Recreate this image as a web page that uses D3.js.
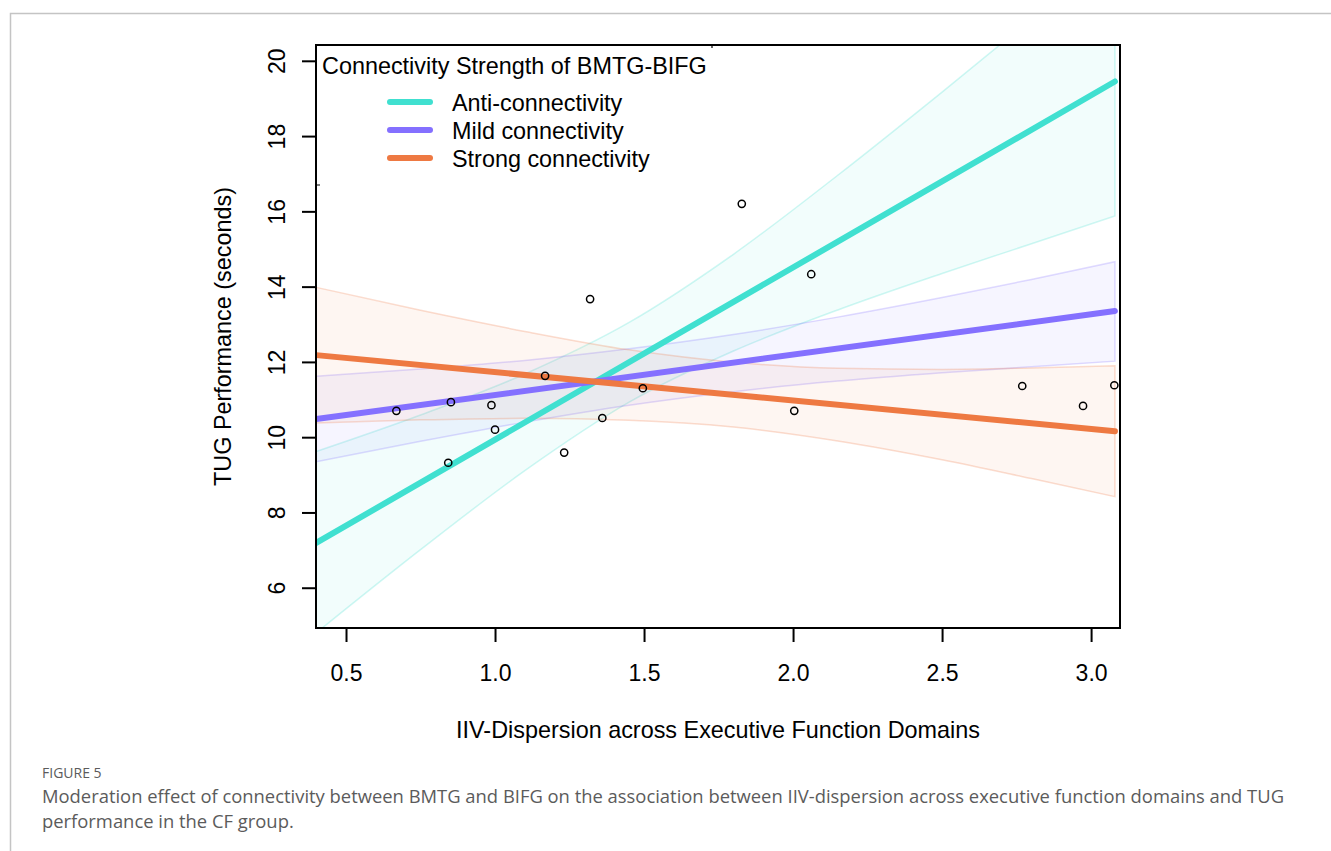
<!DOCTYPE html>
<html>
<head>
<meta charset="utf-8">
<script src="https://cdn.jsdelivr.net/npm/d3@7"></script>
<style>
  html, body { margin: 0; padding: 0; background: #ffffff; }
  svg { display: block; }
  .chart-text { font-family: "Liberation Sans", Arial, Helvetica, sans-serif; fill: #000; }
  .caption { font-family: "Open Sans", "Noto Sans", sans-serif; fill: #5b5b5b; }
</style>
</head>
<body>
<svg id="fig" width="1331" height="851"></svg>
<script>
// ---- Data -------------------------------------------------------------
const seriesNames = ["Anti-connectivity", "Mild connectivity", "Strong connectivity"];
const seriesColors = ["#40E0D0", "#8470FF", "#EE7942"];
const legendTitle = "Connectivity Strength of BMTG-BIFG";

// Observed cases: IIV-dispersion vs TUG seconds
const pointX = [0.669, 0.852, 0.843, 0.988, 1.000, 1.168, 1.232, 1.319, 1.360, 1.496, 1.828, 2.004, 2.061, 2.769, 2.973, 3.078];
const pointY = [10.70, 10.93, 9.32, 10.85, 10.20, 11.63, 9.59, 13.67, 10.51, 11.30, 16.20, 10.70, 14.33, 11.36, 10.83, 11.38];

// Simple-slope fitted lines at the two ends of the dispersion range
const fitX = [0.40, 3.08];
const fitAnti   = [7.19, 19.45];
const fitMild   = [10.48, 13.35];
const fitStrong = [12.18, 10.16];

// Confidence bands (lower / upper) sampled along the dispersion axis
const bandX = [0.40, 0.75, 1.10, 1.45, 1.80, 2.15, 2.50, 2.80, 3.08];
const antiLower   = [4.80, 7.01, 9.11, 10.93, 12.29, 13.38, 14.35, 15.14, 15.88];
const antiUpper   = [9.62, 10.59, 11.68, 13.05, 14.86, 16.96, 19.17, 21.11, 22.96];
const mildLower   = [9.35, 9.89, 10.40, 10.85, 11.21, 11.49, 11.71, 11.87, 12.02];
const mildUpper   = [11.62, 11.81, 12.04, 12.35, 12.73, 13.19, 13.71, 14.19, 14.66];
const strongLower = [10.38, 10.46, 10.50, 10.45, 10.27, 9.90, 9.40, 8.90, 8.42];
const strongUpper = [13.98, 13.37, 12.81, 12.32, 11.99, 11.83, 11.80, 11.84, 11.90];

const xTicks = [0.5, 1.0, 1.5, 2.0, 2.5, 3.0];
const yTicks = [6, 8, 10, 12, 14, 16, 18, 20];

const xTitle = "IIV-Dispersion across Executive Function Domains";
const yTitle = "TUG Performance (seconds)";
const figLabel = "FIGURE 5";
const captionLines = [
  "Moderation effect of connectivity between BMTG and BIFG on the association between IIV-dispersion across executive function domains and TUG",
  "performance in the CF group."
];

// ---- Layout -----------------------------------------------------------
const svg = d3.select("#fig");
const plot = { left: 316, right: 1120, top: 45, bottom: 628 };

const x = d3.scaleLinear().domain([0.3993, 3.097]).range([plot.left, plot.right]);
const y = d3.scaleLinear().domain([4.93, 20.42]).range([plot.bottom, plot.top]);

// Page frame
svg.append("path")
  .attr("d", `M10.5,851 V13.5 H1331`)
  .attr("fill", "none").attr("stroke", "#c4c4c4").attr("stroke-width", 1.5);

svg.append("defs").append("clipPath").attr("id", "plotClip")
  .append("rect")
  .attr("x", plot.left).attr("y", plot.top)
  .attr("width", plot.right - plot.left).attr("height", plot.bottom - plot.top);

const g = svg.append("g").attr("clip-path", "url(#plotClip)");

const series = [
  { name: seriesNames[0], color: seriesColors[0], lo: antiLower,   hi: antiUpper,   fit: fitAnti },
  { name: seriesNames[1], color: seriesColors[1], lo: mildLower,   hi: mildUpper,   fit: fitMild },
  { name: seriesNames[2], color: seriesColors[2], lo: strongLower, hi: strongUpper, fit: fitStrong }
];

// Confidence bands
const area = d3.area()
  .x(d => x(d.x)).y0(d => y(d.lo)).y1(d => y(d.hi))
  .curve(d3.curveMonotoneX);

series.forEach(s => {
  const pts = bandX.map((bx, i) => ({ x: bx, lo: s.lo[i], hi: s.hi[i] }));
  g.append("path")
    .attr("d", area(pts))
    .attr("fill", s.color).attr("fill-opacity", 0.07)
    .attr("stroke", s.color).attr("stroke-opacity", 0.25).attr("stroke-width", 1.5);
});

// Fitted lines
const line = d3.line().x(d => x(d[0])).y(d => y(d[1]));
series.forEach(s => {
  g.append("path")
    .attr("d", line(fitX.map((fx, i) => [fx, s.fit[i]])))
    .attr("fill", "none").attr("stroke", s.color)
    .attr("stroke-width", 6).attr("stroke-linecap", "round");
});

// Observed points
svg.append("g").selectAll("circle")
  .data(pointX.map((px, i) => [px, pointY[i]]))
  .join("circle")
  .attr("cx", d => x(d[0])).attr("cy", d => y(d[1])).attr("r", 3.6)
  .attr("fill", "none").attr("stroke", "#000").attr("stroke-width", 1.5);

// Plot frame
svg.append("rect")
  .attr("x", plot.left).attr("y", plot.top)
  .attr("width", plot.right - plot.left).attr("height", plot.bottom - plot.top)
  .attr("fill", "none").attr("stroke", "#000").attr("stroke-width", 2);

// Legend frame remnants (top edge and corners)
svg.append("path")
  .attr("d", `M${plot.left},${plot.top + 0.5} H712 M712,${plot.top} V48 M${plot.left},185 H320`)
  .attr("fill", "none").attr("stroke", "#000").attr("stroke-width", 1.2);

// Axes
const xAxis = svg.append("g").attr("transform", `translate(0,${plot.bottom})`)
  .call(d3.axisBottom(x).tickValues(xTicks).tickSize(14).tickFormat(d3.format(".1f")));
xAxis.select(".domain").remove();
xAxis.selectAll(".tick line").attr("stroke", "#000").attr("stroke-width", 2);
xAxis.selectAll(".tick text")
  .attr("class", "chart-text").attr("y", 53).attr("dy", null)
  .style("font-size", "23px");

const yAxis = svg.append("g").attr("transform", `translate(${plot.left},0)`)
  .call(d3.axisLeft(y).tickValues(yTicks).tickSize(14).tickFormat(d3.format("d")));
yAxis.select(".domain").remove();
yAxis.selectAll(".tick line").attr("stroke", "#000").attr("stroke-width", 2);
yAxis.selectAll(".tick text")
  .attr("class", "chart-text")
  .attr("x", null).attr("dy", null)
  .attr("text-anchor", "middle")
  .attr("transform", "translate(-31,0) rotate(-90)")
  .style("font-size", "23px");

// Axis titles
svg.append("text").attr("class", "chart-text")
  .attr("x", (plot.left + plot.right) / 2).attr("y", 738)
  .attr("text-anchor", "middle").style("font-size", "23.4px")
  .text(xTitle);

svg.append("text").attr("class", "chart-text")
  .attr("transform", `translate(231,${(plot.top + plot.bottom) / 2}) rotate(-90)`)
  .attr("text-anchor", "middle").style("font-size", "23.4px")
  .text(yTitle);

// Legend
const legend = svg.append("g");
legend.append("text").attr("class", "chart-text")
  .attr("x", 322).attr("y", 74).style("font-size", "23.4px")
  .text(legendTitle);
series.forEach((s, i) => {
  const ly = 102 + i * 28;
  legend.append("line")
    .attr("x1", 390).attr("x2", 430).attr("y1", ly).attr("y2", ly)
    .attr("stroke", s.color).attr("stroke-width", 6).attr("stroke-linecap", "round");
  legend.append("text").attr("class", "chart-text")
    .attr("x", 452).attr("y", ly + 9).style("font-size", "23.4px")
    .text(s.name);
});

// Figure caption
svg.append("text").attr("class", "caption")
  .attr("x", 42).attr("y", 778).style("font-size", "14px")
  .text(figLabel);
captionLines.forEach((t, i) => {
  svg.append("text").attr("class", "caption")
    .attr("x", 42).attr("y", 803 + i * 25).style("font-size", "18.4px")
    .text(t);
});
</script>
</body>
</html>
